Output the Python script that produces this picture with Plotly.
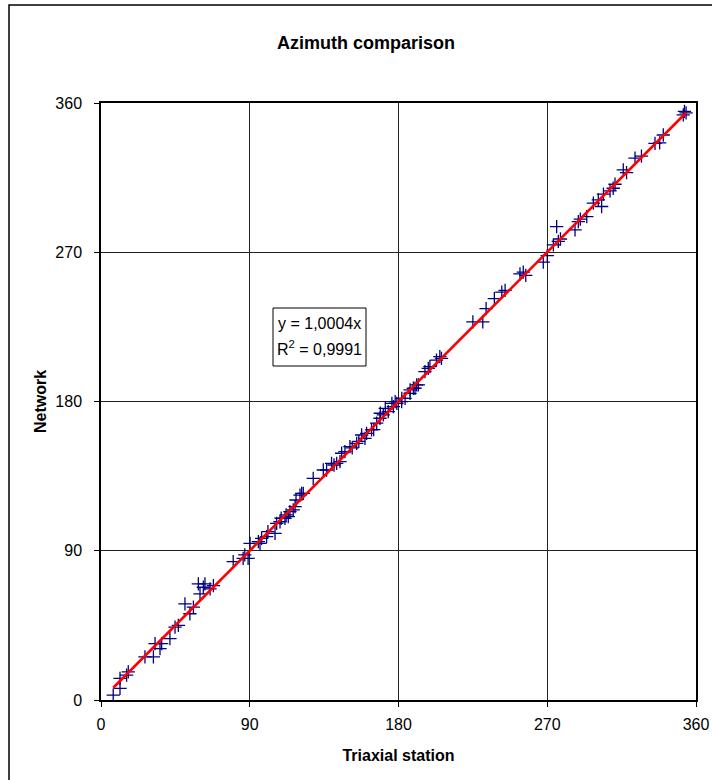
import plotly.graph_objects as go

# Data (Triaxial station azimuth vs Network azimuth, degrees)
triaxial = [7.4, 11.5, 11.5, 15.5, 16.5, 26.6, 31.7, 32.7, 35.7, 36.7, 41.7, 44.8, 46.8,
            50.8, 53.8, 55.9, 58.9, 59.9, 61.9, 62.9, 66.0, 68.0, 80.0, 86.0, 87.0, 89.0,
            90.2, 95.2, 96.2, 97.2, 100.2, 101.0, 105.3, 106.3, 108.3, 109.0, 111.3, 112.0,
            113.3, 114.3, 116.3, 117.4, 118.0, 120.4, 121.4, 122.4, 128.4, 134.5, 136.5,
            139.5, 141.0, 142.6, 144.6, 145.6, 147.6, 150.6, 152.0, 154.7, 156.0, 157.7,
            159.7, 160.7, 163.7, 165.0, 166.8, 168.8, 169.0, 170.8, 172.0, 173.8, 176.0,
            176.9, 178.0, 179.0, 181.9, 182.0, 184.0, 187.0, 187.0, 189.0, 190.0, 191.0,
            192.0, 196.0, 198.0, 199.0, 203.0, 205.0, 206.0, 225.0, 231.0, 233.0, 238.0,
            242.5, 244.5, 253.5, 255.5, 257.0, 267.6, 270.0, 273.7, 275.7, 276.7, 278.0,
            286.8, 288.8, 290.0, 293.9, 297.9, 300.9, 302.9, 304.0, 308.0, 309.9, 311.0,
            316.0, 318.0, 323.1, 327.0, 335.2, 338.0, 340.2, 352.3, 354.0, 353.0]
network = [3.0, 7.0, 13.0, 15.0, 17.0, 26.0, 26.0, 34.0, 31.0, 34.0, 37.0, 44.0, 45.0,
           58.0, 52.0, 56.0, 70.0, 64.0, 68.0, 70.0, 67.0, 69.0, 83.4, 85.4, 87.5, 85.4,
           94.5, 95.5, 94.5, 97.5, 98.5, 101.5, 100.5, 106.5, 107.5, 109.6, 109.6, 111.6,
           110.6, 113.6, 114.6, 116.6, 120.6, 123.6, 124.6, 124.6, 133.7, 138.7, 138.7,
           142.7, 141.7, 142.7, 143.7, 148.8, 149.8, 152.8, 152.0, 154.8, 156.0, 159.8,
           157.8, 160.8, 162.9, 163.0, 166.9, 169.9, 172.9, 171.9, 175.9, 173.9, 178.9,
           176.9, 179.9, 178.9, 179.9, 181.9, 181.9, 184.9, 187.0, 188.0, 188.0, 190.0,
           190.0, 198.0, 200.0, 201.0, 205.0, 207.0, 206.0, 228.0, 228.0, 236.0, 242.0,
           246.0, 247.0, 257.0, 258.0, 256.0, 264.0, 268.0, 274.5, 285.5, 276.5, 278.0,
           283.5, 288.5, 290.0, 291.5, 299.6, 301.6, 297.6, 305.0, 307.0, 308.6, 311.0,
           319.7, 318.0, 326.7, 328.0, 335.7, 336.0, 340.7, 352.8, 354.0, 355.0]

slope = 1.0004
r_squared = "0,9991"
tick_vals = [0, 90, 180, 270, 360]
tick_text = ["0", "90", "180", "270", "360"]

FONT = "Liberation Sans, Arial, sans-serif"

x_min, x_max = min(triaxial), max(triaxial)
fit_x = [x_min, x_max]
fit_y = [slope * v for v in fit_x]

fig = go.Figure()
fig.add_trace(go.Scatter(
    x=triaxial, y=network, mode="markers",
    marker=dict(symbol="cross-thin", size=9.5, color="#000080",
                line=dict(color="#000080", width=1.3)),
    showlegend=False, hoverinfo="x+y"))
fig.add_trace(go.Scatter(
    x=fit_x, y=fit_y, mode="lines",
    line=dict(color="#ff0000", width=2.6),
    showlegend=False))

axis_common = dict(
    range=[0, 360], tickvals=tick_vals, ticktext=tick_text, automargin=False,
    showgrid=True, gridcolor="#222222", gridwidth=1,
    showline=True, linecolor="black", linewidth=1.5, mirror=True,
    ticks="outside", ticklen=5, tickcolor="black", tickwidth=1,
    zeroline=False, tickfont=dict(family=FONT, size=16, color="black"),
)

fig.update_layout(
    width=712, height=780,
    margin=dict(l=101, r=16, t=103, b=80),
    paper_bgcolor="white", plot_bgcolor="white",
    title=dict(text="<b>Azimuth comparison</b>", x=366 / 712, xref="container",
               xanchor="center", y=1 - 43 / 780, yref="container", yanchor="middle",
               font=dict(family=FONT, size=18, color="black")),
    xaxis=dict(**axis_common,
               title=dict(text="<b>Triaxial station</b>", standoff=18,
                          font=dict(family=FONT, size=16, color="black")),
               ticklabelstandoff=4),
    yaxis=dict(**axis_common,
               title=dict(text="<b>Network</b>", standoff=5,
                          font=dict(family=FONT, size=16, color="black")),
               ticklabelstandoff=9),
)

# Regression label box
px_to_x = lambda p: (p - 101) / 595 * 360
px_to_y = lambda p: (700 - p) / 597 * 360
fig.add_shape(type="rect", xref="x", yref="y",
              x0=px_to_x(273), x1=px_to_x(366), y0=px_to_y(366), y1=px_to_y(308),
              line=dict(color="black", width=1), fillcolor="white", layer="above")
fig.add_annotation(x=px_to_x(319), y=px_to_y(323), xref="x", yref="y",
                   text=f"y = {str(slope).replace('.', ',')}x", showarrow=False,
                   font=dict(family=FONT, size=16, color="black"))
fig.add_annotation(x=px_to_x(319), y=px_to_y(348), xref="x", yref="y",
                   text=f"R<sup>2</sup> = {r_squared}", showarrow=False,
                   font=dict(family=FONT, size=16, color="black"))

# Outer chart frame (only left and top edges fall inside the picture)
fig.add_shape(type="rect", xref="paper", yref="paper",
              x0=(9 - 101) / 595, x1=1.2, y0=-0.3, y1=(700 - 5) / 597,
              line=dict(color="black", width=1.5), fillcolor="rgba(0,0,0,0)", layer="below")

fig.write_html("out.html")
